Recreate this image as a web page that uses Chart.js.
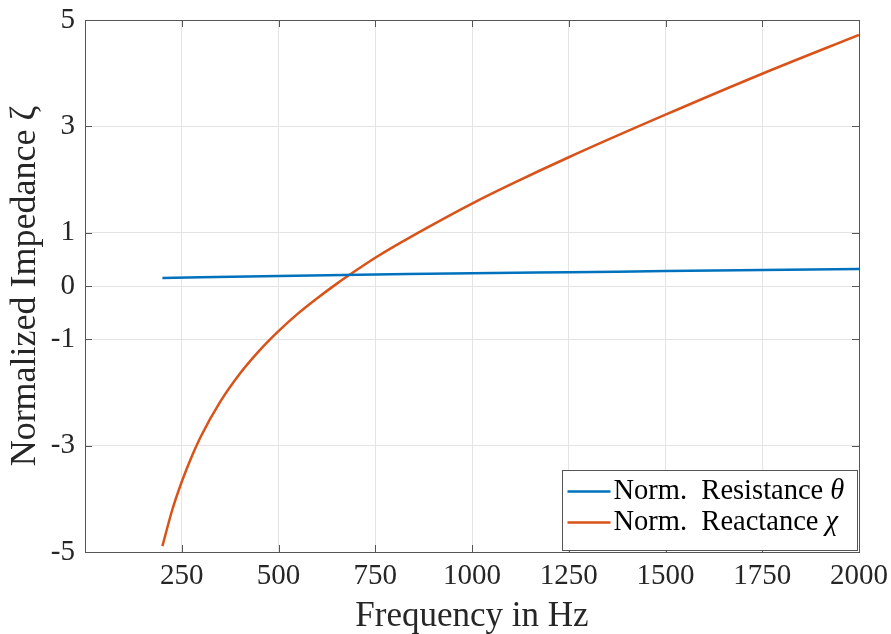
<!DOCTYPE html>
<html>
<head>
<meta charset="utf-8">
<script src="https://cdn.jsdelivr.net/npm/chart.js@4.4.0/dist/chart.umd.min.js"></script>
<style>
  html, body { margin: 0; padding: 0; background: #fff; }
</style>
</head>
<body>
<canvas id="chart" width="891" height="634"></canvas>
<script>
// values
const freqs = [200, 225, 250, 275, 300, 350, 400, 450, 500, 550, 600, 650, 700, 750, 800, 900, 1000, 1100, 1250, 1500, 1750, 2000];
const reactance = [-4.89, -4.22, -3.68, -3.22, -2.82, -2.17, -1.65, -1.22, -0.85, -0.52, -0.23, 0.04, 0.29, 0.53, 0.75, 1.16, 1.55, 1.91, 2.42, 3.22, 3.99, 4.72];
const resistFreqs = [200, 500, 750, 1000, 1250, 1500, 1750, 2000];
const resistance = [0.15, 0.19, 0.215, 0.24, 0.26, 0.28, 0.30, 0.32];
const xTicks = [250, 500, 750, 1000, 1250, 1500, 1750, 2000];
const yTicks = [-5, -3, -1, 0, 1, 3, 5];
const seriesNames = ['Norm.  Resistance ', 'Norm.  Reactance '];
const seriesSymbols = ['\u03B8', '\u03C7'];
const seriesColors = ['#0072BD', '#D95319'];

const FONT = "'Liberation Serif', 'DejaVu Serif', serif";
const TEXT_COLOR = '#262626';
const AXIS_COLOR = '#555555';

// MATLAB-style box with inward ticks on all four sides
const boxPlugin = {
    id: 'boxTicks',
    afterDatasetsDraw(chart) {
        const { ctx, chartArea: a, scales } = chart;
        ctx.save();
        ctx.strokeStyle = AXIS_COLOR;
        ctx.lineWidth = 1;
        ctx.beginPath();
        scales.x.ticks.forEach(t => {
            const px = Math.round(scales.x.getPixelForValue(t.value)) + 0.5;
            ctx.moveTo(px, a.bottom); ctx.lineTo(px, a.bottom - 7);
            ctx.moveTo(px, a.top); ctx.lineTo(px, a.top + 7);
        });
        scales.y.ticks.forEach(t => {
            const py = Math.round(scales.y.getPixelForValue(t.value)) + 0.5;
            ctx.moveTo(a.left, py); ctx.lineTo(a.left + 7, py);
            ctx.moveTo(a.right, py); ctx.lineTo(a.right - 7, py);
        });
        ctx.stroke();
        ctx.strokeRect(Math.round(a.left) + 0.5, Math.round(a.top) + 0.5,
                       Math.round(a.right - a.left), Math.round(a.bottom - a.top));
        ctx.restore();
    }
};

// legend inside the lower right corner
const legendPlugin = {
    id: 'innerLegend',
    afterDraw(chart) {
        const { ctx, chartArea: a } = chart;
        const w = 295, h = 80;
        const x0 = Math.round(a.right - w - 2) + 0.5;
        const y0 = Math.round(a.bottom - h - 2) + 0.5;
        ctx.save();
        ctx.fillStyle = '#fff';
        ctx.fillRect(x0, y0, w, h);
        ctx.strokeStyle = AXIS_COLOR;
        ctx.lineWidth = 1;
        ctx.strokeRect(x0, y0, w, h);
        ctx.textBaseline = 'middle';
        seriesNames.forEach((name, i) => {
            const yy = y0 + 21 + i * 31;
            ctx.strokeStyle = seriesColors[i];
            ctx.lineWidth = 2.5;
            ctx.beginPath();
            ctx.moveTo(x0 + 5, yy);
            ctx.lineTo(x0 + 48, yy);
            ctx.stroke();
            ctx.fillStyle = '#000';
            ctx.font = '28.5px ' + FONT;
            ctx.fillText(name, x0 + 51, yy);
            const tw = ctx.measureText(name).width;
            ctx.font = 'italic 28.5px ' + FONT;
            ctx.fillText(seriesSymbols[i], x0 + 51 + tw, yy);
        });
        ctx.restore();
    }
};

const ctx = document.getElementById('chart').getContext('2d');
new Chart(ctx, {
    type: 'line',
    data: {
        datasets: [
            {
                label: seriesNames[0] + seriesSymbols[0],
                data: resistFreqs.map((f, i) => ({ x: f, y: resistance[i] })),
                borderColor: seriesColors[0],
                borderWidth: 2.5,
                pointRadius: 0,
                cubicInterpolationMode: 'monotone'
            },
            {
                label: seriesNames[1] + seriesSymbols[1],
                data: freqs.map((f, i) => ({ x: f, y: reactance[i] })),
                borderColor: seriesColors[1],
                borderWidth: 2.5,
                pointRadius: 0,
                cubicInterpolationMode: 'monotone'
            }
        ]
    },
    options: {
        responsive: false,
        animation: false,
        layout: { padding: { top: 20, right: 32, left: 0, bottom: 0 } },
        plugins: {
            legend: { display: false },
            tooltip: { enabled: false }
        },
        scales: {
            x: {
                type: 'linear',
                min: 0,
                max: 2000,
                afterBuildTicks: scale => { scale.ticks = xTicks.map(v => ({ value: v })); },
                afterFit: scale => {
                    scale.height = 82;
                    scale.paddingLeft = 0;
                    scale.paddingRight = 0;
                },
                grid: { color: '#e4e4e4', drawTicks: false },
                border: { color: AXIS_COLOR },
                ticks: {
                    color: TEXT_COLOR,
                    font: { family: FONT, size: 29 },
                    padding: 7,
                    maxRotation: 0,
                    autoSkip: false,
                    callback: v => String(v)
                },
                title: {
                    display: true,
                    text: 'Frequency in Hz',
                    color: TEXT_COLOR,
                    font: { family: FONT, size: 35, lineHeight: 1.0 },
                    padding: { top: 0, bottom: 0 }
                }
            },
            y: {
                min: -5,
                max: 5,
                afterBuildTicks: scale => { scale.ticks = yTicks.map(v => ({ value: v })); },
                afterFit: scale => {
                    scale.width = 85;
                    scale.paddingTop = 0;
                    scale.paddingBottom = 0;
                },
                grid: { color: '#e4e4e4', drawTicks: false },
                border: { color: AXIS_COLOR },
                ticks: {
                    color: TEXT_COLOR,
                    font: { family: FONT, size: 29 },
                    padding: 10,
                    autoSkip: false,
                    callback: v => String(v)
                },
                title: {
                    display: true,
                    text: 'Normalized Impedance \u03B6',
                    color: TEXT_COLOR,
                    font: { family: FONT, size: 36, lineHeight: 1.0 },
                    padding: { top: 8, bottom: 0 }
                }
            }
        }
    },
    plugins: [boxPlugin, legendPlugin]
});
</script>
</body>
</html>
